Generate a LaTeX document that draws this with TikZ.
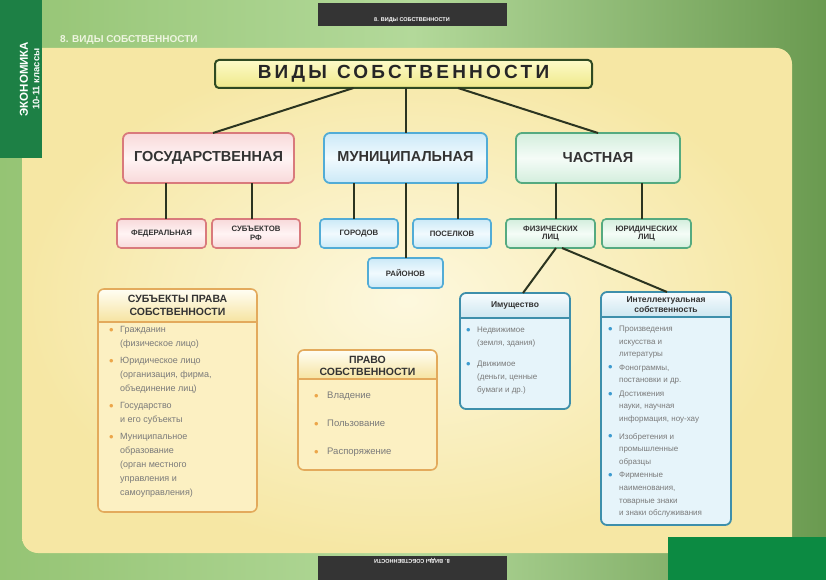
\documentclass[tikz,border=0pt]{standalone}
\usepackage{fontspec}
\setmainfont{Liberation Sans}
\usetikzlibrary{calc}
\definecolor{bgL}{HTML}{95C474}
\definecolor{bgM}{HTML}{B3D99A}
\definecolor{bgR}{HTML}{6A9A50}
\definecolor{bandC}{HTML}{1D8045}
\definecolor{gboxC}{HTML}{0C8A42}
\definecolor{darkbar}{HTML}{343434}
\definecolor{panelIn}{HTML}{FDF8DE}
\definecolor{panelOut}{HTML}{F6E7A4}
\definecolor{titleT}{HTML}{FDFAC8}
\definecolor{titleB}{HTML}{EFE98A}
\definecolor{titleBorder}{HTML}{2F4A22}
\definecolor{connC}{HTML}{2B3420}
\definecolor{pinkB}{HTML}{D97A7C}
\definecolor{pinkL}{HTML}{F8D9DA}
\definecolor{pinkW}{HTML}{FFF4F4}
\definecolor{blueB}{HTML}{52ACD6}
\definecolor{blueL}{HTML}{CBE9F7}
\definecolor{blueW}{HTML}{F1FAFE}
\definecolor{grnB}{HTML}{55AA80}
\definecolor{grnL}{HTML}{D3EEDD}
\definecolor{grnW}{HTML}{F5FCF7}
\definecolor{oraB}{HTML}{E3AA5C}
\definecolor{oraBody}{HTML}{FCF0C2}
\definecolor{oraHT}{HTML}{FFFEF4}
\definecolor{oraHB}{HTML}{F6E3A0}
\definecolor{lbB}{HTML}{3E8FAB}
\definecolor{lbBody}{HTML}{E6F4FA}
\definecolor{lbHT}{HTML}{F7FCFE}
\definecolor{lbHB}{HTML}{CDE6F0}
\definecolor{txtH}{HTML}{333333}
\definecolor{txtB}{HTML}{7A7A7A}
\definecolor{bulO}{HTML}{ECA64A}
\definecolor{bulB}{HTML}{3D9BD0}
\definecolor{headTxt}{HTML}{EEF5E0}
\newcommand\myfs[2]{\fontsize{#1}{#2}\selectfont}
\newcommand\bigdot{\raisebox{-1.8pt}{\fontsize{13}{0}\selectfont •}}
\newcommand\orblt{\makebox[11pt][l]{\textcolor{bulO}{\bigdot}}}
\newcommand\blblt{\makebox[11pt][l]{\textcolor{bulB}{\bigdot}}}
\newcommand\indsp{\hspace*{11pt}}
\begin{document}
\begin{tikzpicture}[x=1pt,y=-1pt,
  conn/.style={draw=connC, line width=2pt},
  lone/.style={line width=1.8pt, rounded corners=6pt, minimum height=50pt, inner sep=0pt, outer sep=0pt, font=\bfseries\myfs{14.5}{16}, text=txtH},
  ltwo/.style={line width=1.6pt, rounded corners=4pt, minimum height=29pt, inner sep=0pt, outer sep=0pt, font=\bfseries\myfs{7.8}{8.8}, text=txtH, align=center},
  pinkfill/.style={draw=pinkB, top color=pinkL, bottom color=pinkL, middle color=pinkW},
  bluefill/.style={draw=blueB, top color=blueL, bottom color=blueL, middle color=blueW},
  grnfill/.style={draw=grnB, top color=grnL, bottom color=grnL, middle color=grnW},
  boxbase/.style={rounded corners=6pt, inner sep=0pt, outer sep=0pt},
  hdr/.style={font=\bfseries\myfs{10.5}{12.5}, text=txtH, align=center, inner sep=0pt},
  hdrs/.style={font=\bfseries\myfs{8.5}{10}, text=txtH, align=center, inner sep=0pt},
  body/.style={anchor=north west, align=left, inner sep=0pt, text=txtB}
]
\useasboundingbox (0,0) rectangle (826,580);
% background
\shade[left color=bgL, right color=bgR, middle color=bgM] (0,0) rectangle (826,580);
% panel
\shade[inner color=panelIn, outer color=panelOut, rounded corners=16pt] (22,48) rectangle (792,553);
% header texts and bars
\node[anchor=west, font=\bfseries\myfs{10}{12}, text=headTxt, inner sep=0pt] (secttitle) at (60,40) {8. ВИДЫ СОБСТВЕННОСТИ};
\fill[darkbar] (318,3) rectangle (507,26);
\node[font=\bfseries\myfs{5.5}{6}, text=white, inner sep=0pt] (toptxt) at (412,20.5) {8. ВИДЫ СОБСТВЕННОСТИ};
\fill[darkbar] (318,556) rectangle (507,580);
\node[font=\bfseries\myfs{5.5}{6}, text=white, inner sep=0pt, rotate=180] (bottxt) at (412,561) {8. ВИДЫ СОБСТВЕННОСТИ};
\fill[gboxC] (668,537) rectangle (826,580);
\fill[bandC] (0,0) rectangle (42,158);
\node[rotate=90, font=\bfseries\myfs{11.5}{12}, text=white, inner sep=0pt] (band1) at (24,79) {ЭКОНОМИКА};
\node[rotate=90, font=\bfseries\myfs{9.5}{10}, text=white, inner sep=0pt] (band2) at (36,79) {10-11 классы};

% title
\node[draw=titleBorder, line width=2pt, rounded corners=4pt, top color=titleT, bottom color=titleB,
  minimum width=377pt, minimum height=28pt, inner sep=0pt, outer sep=0pt,
  font=\bfseries\myfs{19}{22}, text=black!85] (title) at (403.5,74)
  {\addfontfeatures{LetterSpace=17}ВИДЫ\hspace{10pt}СОБСТВЕННОСТИ};

% level 1
\node[lone, pinkfill, minimum width=171pt] (gos) at (208.5,158) {ГОСУДАРСТВЕННАЯ};
\node[lone, bluefill, minimum width=163pt] (mun) at (405.5,158) {МУНИЦИПАЛЬНАЯ};
\node[lone, grnfill, minimum width=164pt] (chast) at (598,158) {ЧАСТНАЯ};

% level 2
\node[ltwo, pinkfill, minimum width=89pt] (fed) at (161.5,233.5) {ФЕДЕРАЛЬНАЯ};
\node[ltwo, pinkfill, minimum width=88pt] (subrf) at (256,233.5) {СУБЪЕКТОВ\\РФ};
\node[ltwo, bluefill, minimum width=78pt] (gor) at (359,233.5) {ГОРОДОВ};
\node[ltwo, bluefill, minimum width=78pt] (pos) at (452,233.5) {ПОСЕЛКОВ};
\node[ltwo, bluefill, minimum width=75pt, minimum height=30pt] (ray) at (405.5,273) {РАЙОНОВ};
\node[ltwo, grnfill, minimum width=89pt] (fiz) at (550.5,233.5) {ФИЗИЧЕСКИХ\\ЛИЦ};
\node[ltwo, grnfill, minimum width=89pt] (yur) at (646.5,233.5) {ЮРИДИЧЕСКИХ\\ЛИЦ};

% connectors
\draw[conn] ([xshift=-50pt]title.south) -- ([xshift=4.5pt]gos.north);
\draw[conn] (title.south -| mun.north) -- (mun.north);
\draw[conn] ([xshift=54.5pt]title.south) -- (chast.north);
\coordinate (cfed) at ([xshift=4.5pt]fed.north);
\coordinate (csub) at ([xshift=-4pt]subrf.north);
\coordinate (cgor) at ([xshift=-5pt]gor.north);
\coordinate (cpos) at ([xshift=6pt]pos.north);
\coordinate (cfiz) at ([xshift=5.5pt]fiz.north);
\coordinate (cyur) at ([xshift=-4.5pt]yur.north);
\draw[conn] (cfed) -- (cfed |- gos.south);
\draw[conn] (csub) -- (csub |- gos.south);
\draw[conn] (cgor) -- (cgor |- mun.south);
\draw[conn] (cpos) -- (cpos |- mun.south);
\draw[conn] (ray.north) -- (ray.north |- mun.south);
\draw[conn] (cfiz) -- (cfiz |- chast.south);
\draw[conn] (cyur) -- (cyur |- chast.south);

% ---- СУБЪЕКТЫ ПРАВА СОБСТВЕННОСТИ
\node[boxbase, fill=oraBody, minimum width=159pt, minimum height=223pt] (subj) at (177.5,400.5) {};
\begin{scope}
  \clip[rounded corners=6pt] (subj.north west) rectangle (subj.south east);
  \shade[top color=oraHT, bottom color=oraHB] (subj.north west) rectangle (subj.east |- 0,322);
\end{scope}
\draw[oraB, line width=1.6pt, rounded corners=6pt] (subj.north west) rectangle (subj.south east);
\draw[oraB, line width=1.2pt] (subj.west |- 0,322) -- (subj.east |- 0,322);
\node[hdr] (subjh) at (subj.north |- 0,305.5) {СУБЪЕКТЫ ПРАВА\\СОБСТВЕННОСТИ};
\node[body, font=\myfs{9}{14}] (subjb) at (109,326) {%
\orblt Гражданин\\
\indsp(физическое лицо)\\[3pt]
\orblt Юридическое лицо\\
\indsp(организация, фирма,\\
\indsp объединение лиц)\\[3pt]
\orblt Государство\\
\indsp и его субъекты\\[3pt]
\orblt Муниципальное\\
\indsp образование\\
\indsp(орган местного\\
\indsp управления и\\
\indsp самоуправления)};

% ---- ПРАВО СОБСТВЕННОСТИ
\node[boxbase, fill=oraBody, minimum width=139pt, minimum height=120pt] (pravo) at (367.5,410) {};
\begin{scope}
  \clip[rounded corners=6pt] (pravo.north west) rectangle (pravo.south east);
  \shade[top color=oraHT, bottom color=oraHB] (pravo.north west) rectangle (pravo.east |- 0,379);
\end{scope}
\draw[oraB, line width=1.6pt, rounded corners=6pt] (pravo.north west) rectangle (pravo.south east);
\draw[oraB, line width=1.2pt] (pravo.west |- 0,379) -- (pravo.east |- 0,379);
\node[hdr] (pravoh) at (pravo.north |- 0,366) {ПРАВО\\СОБСТВЕННОСТИ};
\node[body, font=\myfs{9.5}{12}] (pravob) at (314,392) {%
\makebox[13pt][l]{\textcolor{bulO}{\bigdot}}Владение\\[16pt]
\makebox[13pt][l]{\textcolor{bulO}{\bigdot}}Пользование\\[16pt]
\makebox[13pt][l]{\textcolor{bulO}{\bigdot}}Распоряжение};

% ---- Имущество
\node[boxbase, fill=lbBody, minimum width=110pt, minimum height=116pt] (imu) at (515,351) {};
\begin{scope}
  \clip[rounded corners=6pt] (imu.north west) rectangle (imu.south east);
  \shade[top color=lbHT, bottom color=lbHB] (imu.north west) rectangle (imu.east |- 0,318);
\end{scope}
\draw[lbB, line width=1.8pt, rounded corners=6pt] (imu.north west) rectangle (imu.south east);
\draw[lbB, line width=1.2pt] (imu.west |- 0,318) -- (imu.east |- 0,318);
\node[hdrs] (imuh) at (imu.north |- 0,305.5) {Имущество};
\node[body, font=\myfs{8}{13}] (imub) at (466,327) {%
\blblt Недвижимое\\
\indsp(земля, здания)\\[8pt]
\blblt Движимое\\
\indsp(деньги, ценные\\
\indsp бумаги и др.)};

% ---- Интеллектуальная собственность
\node[boxbase, fill=lbBody, minimum width=130pt, minimum height=233pt] (intel) at (666,408.5) {};
\begin{scope}
  \clip[rounded corners=6pt] (intel.north west) rectangle (intel.south east);
  \shade[top color=lbHT, bottom color=lbHB] (intel.north west) rectangle (intel.east |- 0,317);
\end{scope}
\draw[lbB, line width=1.8pt, rounded corners=6pt] (intel.north west) rectangle (intel.south east);
\draw[lbB, line width=1.2pt] (intel.west |- 0,317) -- (intel.east |- 0,317);
\node[hdrs] (intelh) at (intel.north |- 0,304.5) {Интеллектуальная\\собственность};
\node[body, font=\myfs{8}{12.6}] (intelb) at (608,326) {%
\blblt Произведения\\
\indsp искусства и\\
\indsp литературы\\[0.5pt]
\blblt Фонограммы,\\
\indsp постановки и др.\\[1pt]
\blblt Достижения\\
\indsp науки, научная\\
\indsp информация, ноу-хау\\[5pt]
\blblt Изобретения и\\
\indsp промышленные\\
\indsp образцы\\[1pt]
\blblt Фирменные\\
\indsp наименования,\\
\indsp товарные знаки\\
\indsp и знаки обслуживания};

% connectors from ФИЗИЧЕСКИХ ЛИЦ
\draw[conn] ([xshift=5.5pt]fiz.south) -- ([xshift=8pt]imu.north);
\draw[conn] ([xshift=11.5pt]fiz.south) -- ([xshift=1pt]intel.north);
\end{tikzpicture}
\end{document}
